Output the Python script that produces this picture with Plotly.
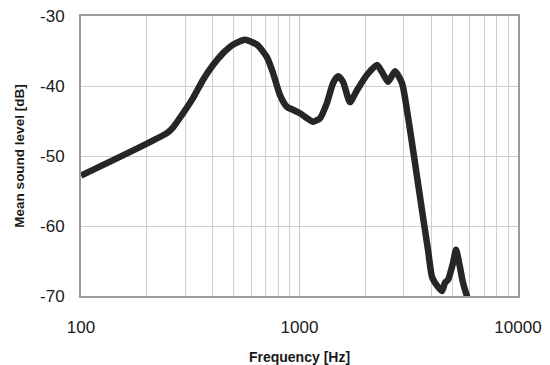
import plotly.graph_objects as go

freq_hz = [100, 248, 264, 293, 326, 362, 402, 447, 496, 563, 639, 710, 756, 814, 877, 934,
           1005, 1082, 1153, 1241, 1336, 1424, 1501, 1582, 1702, 1833, 2037, 2263, 2386,
           2541, 2736, 2945, 3138, 3308, 3486, 3675, 3873, 4041, 4170, 4489, 4633, 4782,
           5041, 5202, 5427, 5602, 5905]
level_db = [-52.8, -46.7, -45.9, -43.9, -41.7, -39.1, -37.0, -35.3, -34.1, -33.4, -34.1,
            -35.9, -38.1, -41.3, -43.0, -43.4, -43.9, -44.6, -45.1, -44.6, -42.4, -39.6,
            -38.6, -39.4, -42.3, -40.6, -38.4, -37.0, -38.0, -39.4, -37.9, -39.6, -44.4,
            -49.1, -53.9, -58.7, -63.4, -67.3, -68.1, -69.3, -68.1, -67.7, -65.3, -63.4,
            -65.9, -68.1, -70.5]

x_tick_vals = [100, 1000, 10000]
x_tick_text = ["100", "1000", "10000"]
x_minor_vals = [200, 300, 400, 500, 600, 700, 800, 900,
                2000, 3000, 4000, 5000, 6000, 7000, 8000, 9000]
y_tick_vals = [-70, -60, -50, -40, -30]
y_tick_text = ["-70", "-60", "-50", "-40", "-30"]

fig = go.Figure()
fig.add_trace(go.Scatter(
    x=freq_hz, y=level_db, mode="lines",
    line=dict(color="#262626", width=6.5, shape="spline", smoothing=0.6),
    showlegend=False, hoverinfo="skip",
))

font_family = "Liberation Sans, Arial, sans-serif"

fig.update_layout(
    width=550, height=365,
    margin=dict(l=81, r=32, t=16, b=69),
    paper_bgcolor="white", plot_bgcolor="white",
    font=dict(family=font_family, color="#1a1a1a"),
)
fig.update_xaxes(
    type="log", range=[2, 4], automargin=False,
    tickvals=x_tick_vals, ticktext=x_tick_text,
    tickfont=dict(size=17, color="#1a1a1a"),
    ticks="outside", ticklen=15, tickcolor="rgba(0,0,0,0)",
    showgrid=True, gridcolor="#c4c4c4", gridwidth=1,
    minor=dict(tickvals=x_minor_vals, showgrid=True, gridcolor="#cfcfcf", gridwidth=1, ticks=""),
    showline=True, linecolor="#9a9a9a", linewidth=2, mirror=True,
    zeroline=False,
    title=dict(text="<b>Frequency [Hz]</b>", font=dict(size=14, color="#1a1a1a"), standoff=22),
)
fig.update_yaxes(
    range=[-70, -30], tickvals=y_tick_vals, ticktext=y_tick_text, automargin=False,
    tickfont=dict(size=17, color="#1a1a1a"),
    ticks="outside", ticklen=11, tickcolor="rgba(0,0,0,0)",
    showgrid=True, gridcolor="#c9cfdc", gridwidth=1,
    showline=True, linecolor="#9a9a9a", linewidth=2, mirror=True,
    zeroline=False,
    title=dict(text="<b>Mean sound level [dB]</b>", font=dict(size=13.5, color="#1a1a1a"), standoff=12),
)

fig.write_html("out.html")
